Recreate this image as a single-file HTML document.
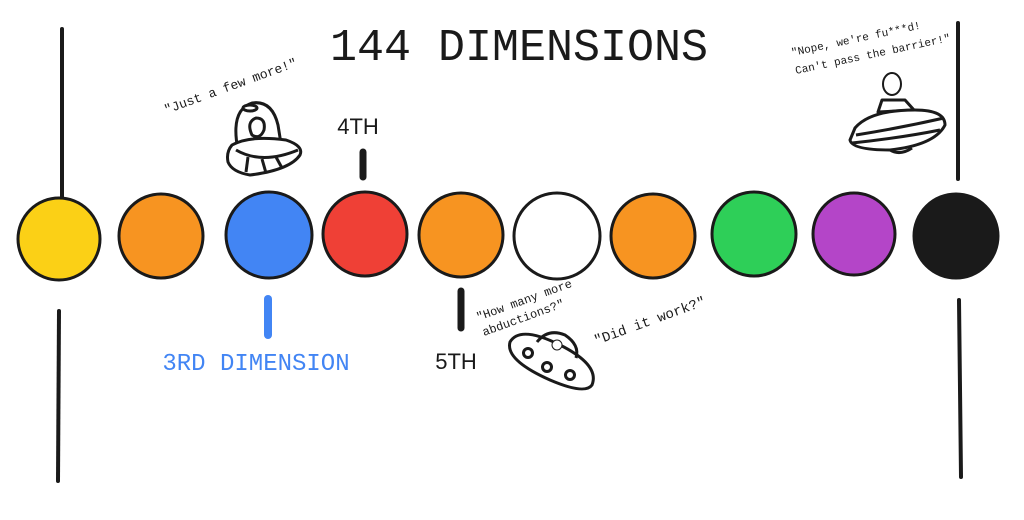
<!DOCTYPE html>
<html><head><meta charset="utf-8"><style>
html,body{margin:0;padding:0;background:#fff;}
svg{display:block;}
.m{font-family:"Liberation Mono",monospace;}
.s{font-family:"Liberation Sans",sans-serif;}
</style></head><body>
<svg width="1024" height="520" viewBox="0 0 1024 520" xmlns="http://www.w3.org/2000/svg">
<g stroke="#1a1a1a" stroke-linecap="round" fill="none">
<line x1="62" y1="29" x2="62" y2="203" stroke-width="4"/>
<line x1="59" y1="311" x2="58" y2="481" stroke-width="4"/>
<line x1="958" y1="23" x2="958" y2="179" stroke-width="4"/>
<line x1="959" y1="300" x2="961" y2="477" stroke-width="4"/>
<line x1="363" y1="152" x2="363" y2="177" stroke-width="7"/>
<line x1="461" y1="291" x2="461" y2="328" stroke-width="7"/>
<line x1="268" y1="299" x2="268" y2="335" stroke-width="8" stroke="#4285f4"/>
</g>
<g stroke="#1a1a1a" stroke-width="3">
<circle cx="59" cy="239" r="41" fill="#fbd016"/>
<circle cx="161" cy="236" r="42" fill="#f79421"/>
<circle cx="269" cy="235" r="43" fill="#4285f4"/>
<circle cx="365" cy="234" r="42" fill="#ef4036"/>
<circle cx="461" cy="235" r="42" fill="#f79421"/>
<circle cx="557" cy="236" r="43" fill="#ffffff"/>
<circle cx="653" cy="236" r="42" fill="#f79421"/>
<circle cx="754" cy="234" r="42" fill="#2ecf58"/>
<circle cx="854" cy="234" r="41" fill="#b445c8"/>
<circle cx="956" cy="236" r="42" fill="#1a1a1a"/>
</g>
<text x="519" y="60" text-anchor="middle" class="m" font-size="45" fill="#1a1a1a">144 DIMENSIONS</text>
<text x="358" y="134" text-anchor="middle" class="s" font-size="22" fill="#1a1a1a">4TH</text>
<text x="456" y="369" text-anchor="middle" class="s" font-size="22" fill="#1a1a1a">5TH</text>
<text x="256" y="370" text-anchor="middle" class="m" font-size="24" fill="#4285f4">3RD DIMENSION</text>
<text class="m" font-size="13" fill="#1a1a1a" transform="translate(166,114) rotate(-20)">"Just a few more!"</text>
<text class="m" font-size="12" fill="#1a1a1a" transform="translate(478,321) rotate(-20)">"How many more</text>
<text class="m" font-size="12" fill="#1a1a1a" transform="translate(484,336) rotate(-20)">abductions?"</text>
<text class="m" font-size="14" fill="#1a1a1a" transform="translate(596,345) rotate(-20)">"Did it work?"</text>
<text class="m" font-size="11" fill="#1a1a1a" transform="translate(792,56) rotate(-12)">"Nope, we're fu***d!</text>
<text class="m" font-size="11" fill="#1a1a1a" transform="translate(796,74) rotate(-12)">Can't pass the barrier!"</text>
<!-- UFO 1 -->
<g stroke="#1a1a1a" stroke-width="3" fill="#fff" stroke-linejoin="round">
<path d="M238 150 Q230 110 252 103 Q272 100 278 125 L282 150 Z"/>
<ellipse cx="250" cy="108" rx="7" ry="3"/>
<path d="M252 135 Q246 122 256 118 Q266 118 264 130 Q260 140 252 135 Z"/>
<path d="M232 145 Q250 135 286 140 Q304 146 300 155 Q290 170 250 175 Q232 172 228 162 Q226 152 232 145 Z"/>
<path d="M236 150 Q262 165 298 150" fill="none"/>
<line x1="248" y1="157" x2="246" y2="172"/><line x1="262" y1="159" x2="266" y2="173"/><line x1="276" y1="157" x2="282" y2="168"/>
</g>
<!-- UFO 2 -->
<g stroke="#1a1a1a" stroke-width="3" fill="#fff">
<path d="M510 342 Q520 325 560 345 Q600 365 592 385 Q585 395 550 380 Q505 360 510 342 Z"/>
<path d="M537 342 Q548 328 565 335 Q580 345 576 358" fill="none"/>
<circle cx="528" cy="353" r="4.5"/><circle cx="547" cy="367" r="4.5"/><circle cx="570" cy="375" r="4.5"/>
<circle cx="557" cy="345" r="5" stroke-width="1"/>
</g>
<!-- UFO 3 -->
<g stroke="#1a1a1a" stroke-width="3" fill="#fff" stroke-linejoin="round">
<ellipse cx="892" cy="84" rx="9" ry="11" stroke-width="2"/>
<path d="M878 112 L882 100 L905 100 L914 110 Z"/>
<path d="M855 128 Q870 110 915 110 Q945 110 945 125 Q935 145 890 150 Q852 150 850 140 Z"/>
<path d="M856 135 Q900 128 944 118 M852 143 Q900 138 940 130" fill="none"/>
<path d="M890 150 Q900 156 912 148" fill="none"/>
</g>
</svg>
</body></html>
